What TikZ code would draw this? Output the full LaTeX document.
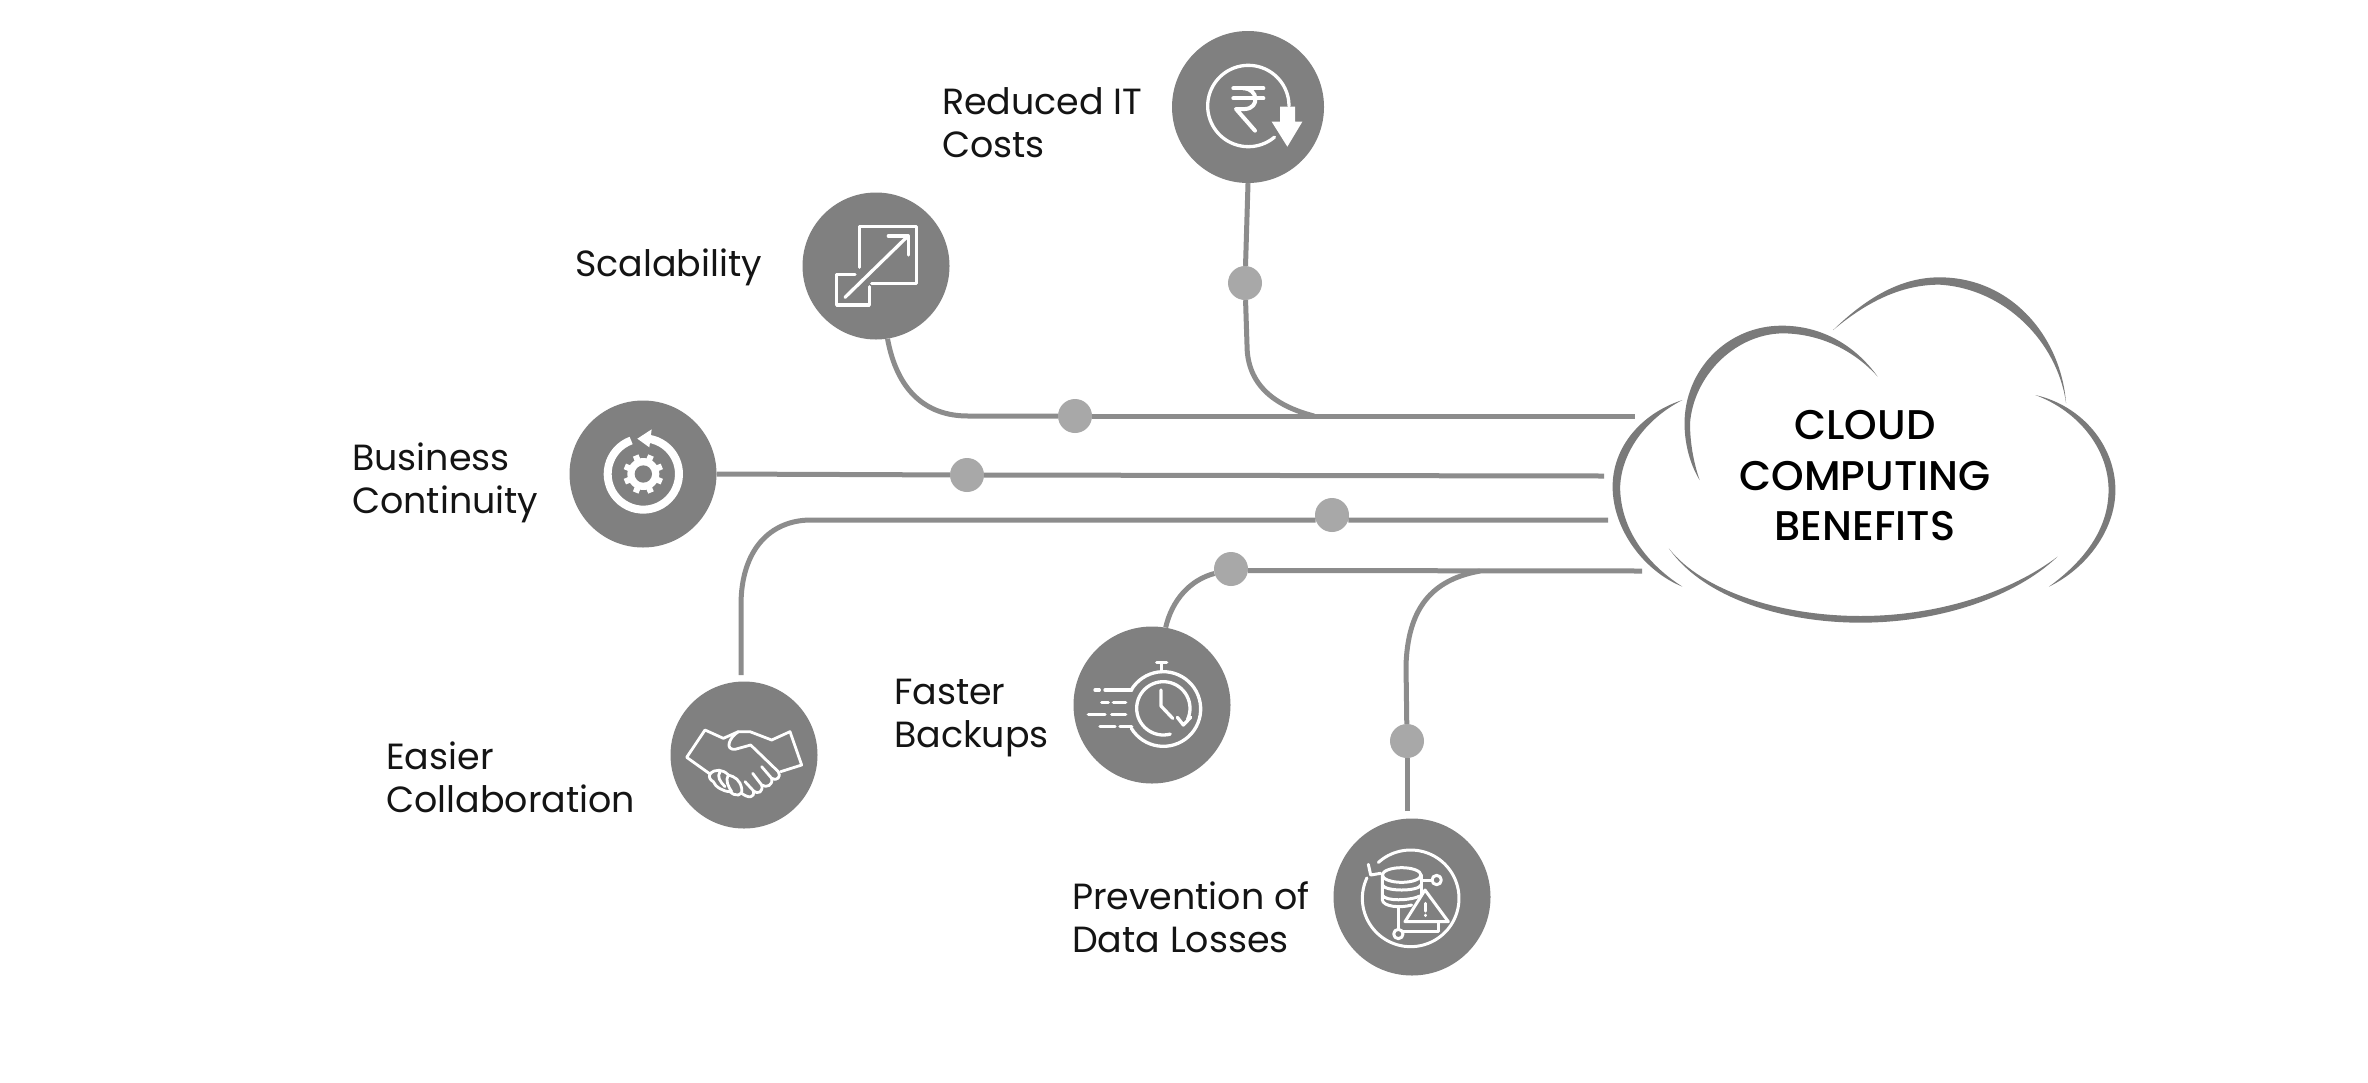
\documentclass[tikz,border=0pt]{standalone}
\usepackage{fontspec}
\setmainfont{Poppins}
\newfontfamily\titlefont{Poppins Medium}
\newcommand{\iarc}[5]{\draw[icon] plot[domain=#4:#5,samples=48,smooth] ({#1+#2*cos(\x)},{#3+#2*sin(\x)});}
\begin{document}
\begin{tikzpicture}[x=1pt,y=-1pt,
  badge/.style={circle,fill=badgegray,draw=none,inner sep=0pt,minimum size=#1},
  link/.style={draw=linkgray,line width=5pt},
  dotnode/.style={circle,fill=dotgray,draw=none,inner sep=0pt,minimum size=34pt},
  lab/.style={anchor=west,inner sep=0pt,align=left,font=\fontsize{36.4}{43}\selectfont,text=black!92},
  icon/.style={draw=white,line width=3.3pt,line cap=round,line join=round},
  cres/.style={fill=cloudgray,draw=none}]
\definecolor{badgegray}{HTML}{808080}
\definecolor{linkgray}{HTML}{8C8C8C}
\definecolor{dotgray}{HTML}{A8A8A8}
\definecolor{cloudgray}{HTML}{7A7A7A}
\path[fill=white] (0,0) rectangle (2368,1082);
\useasboundingbox (0,0) rectangle (2368,1082);
% badges
\node[badge=152pt] (rupee) at (1248,107) {};
\node[badge=147pt] (scal) at (876,266) {};
\node[badge=147pt] (bus) at (643,474) {};
\node[badge=147pt] (easy) at (744,755) {};
\node[badge=157pt] (fast) at (1152,705) {};
\node[badge=157pt] (prev) at (1412,897) {};
% labels
\node[lab] (lrupee) at (942,122.5) {Reduced IT\\Costs};
\node[lab] (lscal) at (575,267) {Scalability};
\node[lab] (lbus) at (352,482.5) {Business\\Continuity};
\node[lab] (leasy) at (386,777.5) {Easier\\Collaboration};
\node[lab] (lfast) at (894,718) {Faster\\Backups};
\node[lab] (lprev) at (1072,917) {Prevention of\\Data Losses};
% cloud
\node[inner sep=0pt,align=center,font=\titlefont\fontsize{41.5}{50.5}\selectfont,text=black] (cloud) at (1865,476) {CLOUD\\COMPUTING\\BENEFITS};
\begin{scope}[shift={(1590,260)},xscale=0.3425,yscale=1/3]
\fill[cres] (710,210) .. controls (820,100) and (920,52) .. (1020,52) .. controls (1230,52) and (1375,230) .. (1390,430) .. controls (1365,245) and (1210,85) .. (1020,74) .. controls (920,74) and (820,115) .. (710,210);
\fill[cres] (840,350) .. controls (770,250) and (670,197) .. (560,197) .. controls (400,197) and (276,330) .. (276,490) .. controls (276,560) and (296,620) .. (320,660) .. controls (303,610) and (292,550) .. (292,490) .. controls (302,350) and (420,224) .. (560,220) .. controls (670,220) and (770,270) .. (840,350);
\fill[cres] (270,420) .. controls (150,460) and (66,560) .. (66,680) .. controls (66,810) and (160,935) .. (270,980) .. controls (170,915) and (88,810) .. (88,680) .. controls (92,575) and (165,475) .. (270,420);
\fill[cres] (230,865) .. controls (330,1012) and (560,1088) .. (790,1088) .. controls (1020,1088) and (1240,1012) .. (1365,890) .. controls (1230,995) and (1020,1068) .. (790,1068) .. controls (560,1068) and (330,995) .. (230,865);
\fill[cres] (1300,405) .. controls (1440,438) and (1534,560) .. (1534,690) .. controls (1534,810) and (1450,925) .. (1340,980) .. controls (1440,905) and (1514,810) .. (1514,690) .. controls (1514,570) and (1430,455) .. (1300,405);
\end{scope}
% dots
\node[dotnode] (d1) at (1245,283) {};
\node[dotnode] (d2) at (1075,416) {};
\node[dotnode] (d3) at (967,475) {};
\node[dotnode] (d4) at (1332,515) {};
\node[dotnode] (d5) at (1231,569) {};
\node[dotnode] (d6) at (1407,741) {};
\coordinate (c1) at (1635,416);
\coordinate (c3) at (1604,476);
\coordinate (c4) at (1608,520);
\coordinate (c5) at (1642,571);
\coordinate (s4) at (741,675);
\coordinate (s6) at (1407,811);
% connectors
\draw[link] (rupee.south) -- (d1);
\draw[link] (d1) -- (1247,345) .. controls (1247,385) and (1275,406) .. (1314,416);
\draw[link] (scal.-81) .. controls (897,390) and (925,416) .. (968,416) -- (d2);
\draw[link] (d2) -- (c1);
\draw[link] (bus.east) -- (d3);
\draw[link] (d3) -- (c3);
\draw[link] (s4) -- (741,605) .. controls (741,550) and (770,520) .. (811,520) -- (d4.197);
\draw[link] (d4.-17) -- (c4);
\draw[link] (fast.80) .. controls (1172,600) and (1190,580) .. (d5);
\draw[link] (d5.-5) -- (c5);
\draw[link] (s6) -- (d6);
\draw[link] (d6) -- (1406,665) .. controls (1408,610) and (1430,580) .. (1480,571);
% rupee icon
\begin{scope}[shift={(1130,10)},scale=1/3]
\iarc{355}{122}{288}{50}{360}
\fill[white] (450,290) -- (495,290) -- (495,335) -- (517,335) -- (472,410) -- (425,335) -- (450,335) -- cycle;
\draw[icon,line width=4pt] (310,235) -- (400,235) (310,265) -- (400,265);
\draw[icon,line width=4pt] (340,235) .. controls (385,235) and (390,295) .. (345,297) -- (318,297) -- (375,362);
\end{scope}
% scale icon
\begin{scope}[shift={(780,180)},scale=1/3]
\draw[icon] (238,262) -- (238,140) -- (410,140) -- (410,310) -- (275,310);
\draw[icon] (225,283) -- (170,283) -- (170,375) -- (268,375) -- (268,320);
\draw[icon] (195,352) -- (385,167);
\draw[icon] (325,168) -- (385,168) -- (385,225);
\end{scope}
% gear icon
\begin{scope}[shift={(560,390)},scale=1/3]
\draw[draw=white,line width=8pt] plot[domain=278:610,samples=48,smooth] ({250+107*cos(\x)},{252+107*sin(\x)});
\fill[white] (232,146) -- (275,118) -- (268,172) -- cycle;
\fill[white] (250,252) circle[radius=48];
\foreach \a in {0,45,...,315}{\draw[draw=white,line width=6pt] (250,252) -- ({250+60*cos(\a+22.5)},{252+60*sin(\a+22.5)});}
\fill[badgegray] (250,252) circle[radius=26];
\end{scope}
% handshake icon
\begin{scope}[shift={(660,670)},scale=1/3,icon/.append style={line width=2.8pt}]
\draw[icon] (150,312) -- (80,262) -- (135,180) -- (190,205) -- (235,185) -- (270,185) -- (335,210) -- (390,185) -- (425,285) -- (362,305);
\draw[icon] (235,185) .. controls (205,205) and (195,240) .. (225,238) -- (272,225) -- (355,305) .. controls (365,320) and (350,335) .. (335,325) -- (305,290);
\draw[icon] (335,325) .. controls (340,345) and (320,355) .. (305,345) -- (278,310);
\draw[icon] (305,345) .. controls (310,365) and (295,375) .. (280,362) -- (255,335);
\draw[icon] (280,362) .. controls (285,385) and (265,385) .. (245,370);
\draw[icon] (150,312) .. controls (165,295) and (190,298) .. (205,315) .. controls (225,320) and (240,330) .. (245,355) .. controls (250,380) and (225,380) .. (210,365) .. controls (190,365) and (165,350) .. (160,335) .. controls (150,330) and (145,320) .. (150,312);
\draw[icon] (180,305) .. controls (170,320) and (180,335) .. (195,350);
\draw[icon] (205,315) .. controls (195,330) and (205,350) .. (215,365);
\end{scope}
% stopwatch icon
\begin{scope}[shift={(1060,620)},scale=1/3]
\iarc{310}{112}{267}{211}{509}
\iarc{310}{80}{265}{75}{385}
\draw[icon] (303,210) -- (303,258) -- (338,295);
\draw[icon] (352,292) -- (370,315) -- (392,292);
\draw[icon] (290,128) -- (320,128) (305,128) -- (305,155);
\draw[icon] (105,210) -- (118,210) (135,210) -- (215,210);
\draw[icon] (125,247) -- (145,247) (160,247) -- (197,247);
\draw[icon] (85,284) -- (135,284) (155,284) -- (197,284);
\draw[icon] (120,320) -- (165,320) (180,320) -- (215,320);
\end{scope}
% data loss icon
\begin{scope}[shift={(1320,810)},scale=1/3,icon/.append style={line width=3pt}]
\iarc{272}{145}{265}{228}{565}
\draw[icon] (145,163) -- (152,195) -- (182,190);
\draw[icon] (245,195) ellipse[x radius=58,y radius=22];
\draw[icon] (187,195) -- (187,270) .. controls (190,290) and (240,295) .. (275,285);
\draw[icon] (303,195) -- (303,255);
\draw[icon] (187,225) .. controls (195,245) and (295,245) .. (303,225);
\draw[icon] (187,255) .. controls (195,275) and (270,272) .. (300,258);
\draw[icon] (315,240) -- (385,335) -- (255,335) -- cycle;
\draw[icon] (317,280) -- (317,303) (317,315) -- (317,317);
\draw[icon] (235,295) -- (235,358);
\draw[icon] (235,372) circle[radius=14];
\draw[icon] (250,365) -- (355,365) -- (355,337);
\draw[icon] (350,210) circle[radius=14];
\draw[icon] (303,210) -- (336,210);
\end{scope}
\end{tikzpicture}
\end{document}
